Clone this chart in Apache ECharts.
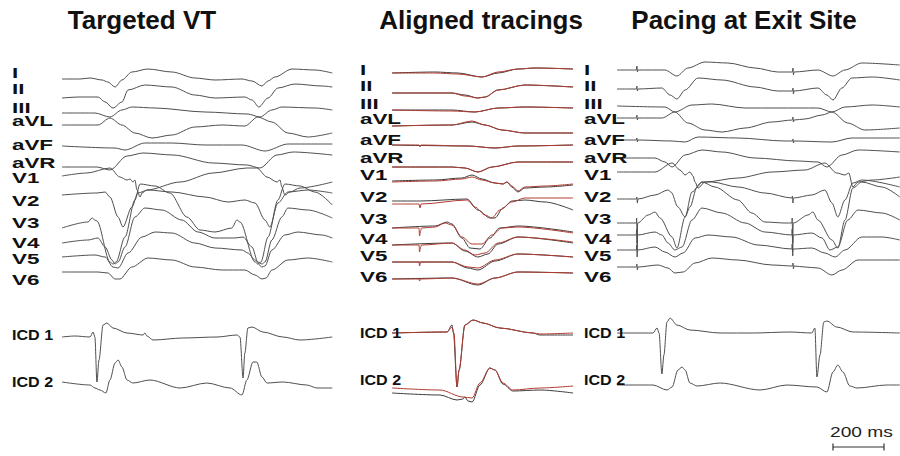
<!DOCTYPE html>
<html>
<head>
<meta charset="utf-8">
<title>Targeted VT and pace map</title>
<script src="https://cdn.jsdelivr.net/npm/echarts@6/dist/echarts.min.js"></script>
<style>
  html, body { margin: 0; padding: 0; background: #fff; }
  #chart { width: 900px; height: 456px; }
</style>
</head>
<body>
<div id="chart"></div>
<script>
// ---------------------------------------------------------------------------
// Tracings. Each lead is a list of [time (ms), amplitude] pairs; amplitude is
// relative to that lead's isoelectric level, positive upwards.
// ---------------------------------------------------------------------------
const leadNames = ['I', 'II', 'III', 'aVL', 'aVF', 'aVR', 'V1', 'V2', 'V3', 'V4', 'V5', 'V6', 'ICD 1', 'ICD 2'];
const panelTitles = ['Targeted VT', 'Aligned tracings', 'Pacing at Exit Site'];

// Targeted VT (two beats)
const vtI   = [[0,0],[71,0],[110,1],[157,-1],[180,-3],[208,-8],[235,-1],[274,7],[337,10],[431,7],[521,1],[600,-1],[706,0],[745,-2],[784,-7],[808,-2],[835,2],[902,10],[992,9],[1060,6]];
const vtII  = [[0,0],[71,1],[141,1],[169,-4],[200,-10],[235,-4],[259,8],[325,13],[431,11],[521,3],[600,0],[717,1],[745,-2],[772,-9],[808,0],[847,10],[913,14],[1019,12],[1060,11]];
const vtIII = [[0,0],[129,0],[188,-4],[235,3],[274,6],[365,5],[561,1],[729,-1],[776,-4],[823,3],[862,6],[992,5],[1060,3]];
const vtAVL = [[0,0],[141,0],[188,7],[235,0],[286,-8],[353,-13],[431,-10],[521,-2],[627,0],[717,-1],[768,8],[823,3],[886,-8],[964,-12],[1060,-8]];
const vtAVF = [[0,0],[208,-2],[247,-4],[325,3],[431,3],[561,1],[706,1],[796,-5],[886,2],[1060,2]];
const vtAVR = [[0,0],[137,0],[188,-3],[255,11],[318,14],[435,12],[592,4],[725,2],[776,-1],[843,12],[906,15],[1060,12]];
const vtV1  = [[0,0],[98,3],[188,8],[227,-1],[255,-4],[267,-3],[278,-6],[286,-4],[294,-14],[306,-21],[314,-17],[333,-14],[463,-6],[592,3],[725,8],[764,8],[804,-1],[843,-6],[855,-4],[862,-11],[874,-19],[894,-16],[933,-12],[1060,-6]];
const vtV2  = [[0,0],[137,2],[169,3],[188,-2],[220,-22],[239,-32],[274,-12],[298,2],[337,5],[431,3],[561,-2],[651,-7],[717,-5],[757,-8],[796,-25],[815,-32],[847,-8],[886,3],[964,5],[1060,2]];
const vtV3  = [[0,0],[102,6],[118,10],[129,8],[137,7],[188,-34],[200,-36],[212,-34],[247,-9],[286,28],[306,44],[365,42],[423,35],[490,11],[541,-2],[600,-4],[666,0],[686,8],[698,6],[757,-34],[768,-36],[780,-34],[808,-9],[847,28],[874,44],[933,42],[992,36],[1060,23]];
const vtV4  = [[0,0],[102,3],[141,5],[169,-4],[196,-17],[208,-21],[220,-19],[247,-4],[286,26],[325,35],[392,33],[470,23],[533,11],[600,5],[678,5],[710,6],[745,-4],[768,-19],[784,-21],[796,-19],[823,3],[862,26],[886,35],[964,33],[1060,25]];
const vtV5  = [[0,0],[129,2],[169,0],[200,-10],[220,-11],[259,4],[314,20],[365,25],[431,24],[521,14],[600,9],[706,7],[729,4],[757,-3],[784,-10],[796,-9],[823,7],[874,22],[925,25],[1019,22],[1060,19]];
const vtV6  = [[0,0],[141,0],[180,-1],[208,-7],[227,-7],[274,5],[337,14],[431,12],[521,5],[627,2],[717,2],[757,-3],[784,-7],[800,-6],[823,2],[886,12],[964,14],[1060,10]];
const vtICD1 = [[0,0],[51,1],[110,0],[122,5],[129,0],[137,-45],[145,-23],[161,12],[176,14],[200,9],[255,4],[318,2],[325,4],[333,1],[357,-3],[474,-1],[608,0],[686,2],[698,0],[710,-41],[717,-16],[729,9],[745,10],[788,5],[866,0],[933,-3],[1060,0]];
const vtICD2 = [[0,1],[110,-2],[129,-5],[149,-7],[172,-10],[188,3],[208,20],[220,23],[235,16],[255,3],[278,0],[345,3],[463,-5],[568,0],[659,-5],[706,-12],[725,3],[749,21],[764,21],[784,6],[804,0],[866,1],[960,-2],[1000,-5],[1060,-5]];

// Aligned single beat: VT (dark) and paced (red)
const alignVtI    = [[0,0],[169,1],[259,0],[353,-4],[416,0],[494,4],[561,5],[710,4]];
const alignPaceI  = [[0,0],[169,0],[259,-1],[353,-4],[416,1],[494,4],[561,5],[710,4]];
const alignVtII   = [[0,0],[235,0],[286,-2],[337,-5],[365,-4],[416,3],[521,8],[710,6]];
const alignPaceII = [[0,0],[110,0],[235,0],[286,-3],[337,-5],[365,-4],[416,3],[521,8],[710,6]];
const alignVtIII   = [[0,0],[235,0],[325,-2],[416,2],[521,3],[710,2]];
const alignPaceIII = [[0,0],[235,-1],[325,-2],[416,2],[521,3],[710,2]];
const alignVtAVL   = [[0,0],[235,1],[314,4],[365,1],[431,-4],[521,-7],[710,-7]];
const alignPaceAVL = [[0,0],[235,1],[314,5],[365,1],[431,-4],[521,-7],[710,-7]];
const alignVtAVF   = [[0,0],[298,-1],[404,-3],[494,-1],[710,0]];
const alignPaceAVF = [[0,0],[106,0],[110,-2],[114,0],[298,-1],[404,-3],[494,-1],[710,0]];
const alignVtAVR   = [[0,0],[235,0],[286,-1],[337,-5],[392,0],[494,5],[710,5]];
const alignPaceAVR = [[0,0],[235,0],[286,-1],[337,-5],[392,0],[494,5],[710,5]];
const alignVtV1   = [[0,1],[169,2],[274,4],[314,7],[353,3],[404,-1],[435,-2],[451,0],[470,-5],[494,-10],[521,-6],[600,-5],[710,-3]];
const alignPaceV1 = [[0,0],[169,1],[274,3],[314,5],[353,2],[404,-1],[435,-2],[451,0],[470,-4],[494,-9],[521,-5],[600,-4],[710,-2]];
const alignVtV2   = [[0,1],[110,1],[294,3],[337,-8],[384,-16],[404,-16],[435,-6],[470,1],[521,2],[600,0],[710,-8]];
const alignPaceV2 = [[0,-2],[106,-2],[110,-6],[114,-2],[294,2],[325,-5],[365,-13],[392,-16],[423,-8],[470,0],[521,4],[710,4]];
const alignVtV3   = [[0,0],[169,2],[216,6],[235,4],[274,-10],[306,-20],[345,-21],[384,-10],[423,0],[494,2],[710,-4]];
const alignPaceV3 = [[0,0],[106,0],[108,-8],[112,-3],[116,0],[169,1],[208,5],[235,3],[274,-9],[314,-16],[353,-16],[392,-7],[431,0],[494,1],[710,-5]];
const alignVtV4   = [[0,0],[235,2],[286,-6],[337,-12],[376,-9],[416,1],[494,8],[710,2]];
const alignPaceV4 = [[0,0],[106,0],[108,-7],[112,-2],[116,0],[235,2],[286,-5],[325,-10],[365,-8],[416,2],[494,8],[710,3]];
const alignVtV5   = [[0,0],[235,0],[298,-6],[337,-8],[404,1],[494,8],[710,5]];
const alignPaceV5 = [[0,0],[106,0],[108,-4],[112,0],[235,0],[298,-5],[337,-6],[404,2],[494,8],[710,5]];
const alignVtV6   = [[0,0],[235,1],[337,-6],[404,1],[494,7],[710,6]];
const alignPaceV6 = [[0,0],[106,0],[108,-2],[112,0],[235,1],[337,-5],[404,1],[494,7],[710,6]];
const alignVtICD1   = [[0,0],[216,1],[235,8],[241,0],[255,-54],[263,-37],[286,8],[318,13],[357,10],[423,5],[553,0],[580,-2],[710,-2]];
const alignPaceICD1 = [[0,0],[216,1],[235,6],[243,0],[255,-54],[263,-37],[286,8],[318,13],[357,10],[423,5],[553,0],[580,-1],[710,0]];
const alignVtICD2   = [[0,-5],[188,-7],[255,-12],[278,-11],[286,-9],[298,-13],[314,-14],[345,3],[384,20],[404,18],[435,4],[474,-3],[580,-2],[710,-5]];
const alignPaceICD2 = [[0,0],[188,-2],[278,-9],[314,-10],[345,5],[384,20],[404,18],[435,5],[474,-2],[580,0],[710,2]];

// Pacing at the exit site (two paced beats, stimulus at 78 ms and 688 ms)
const paceI   = [[0,0],[60,0],[76,0],[78,4],[80,-2],[82,0],[188,0],[235,-6],[278,2],[345,8],[435,7],[541,2],[631,-2],[688,-2],[690,2],[692,-5],[694,-2],[788,0],[847,-6],[894,0],[960,7],[1109,5]];
const paceII  = [[0,0],[76,0],[78,3],[80,-2],[82,0],[176,1],[208,-6],[235,-10],[267,-1],[318,11],[412,9],[541,2],[631,-2],[688,-2],[690,1],[692,-5],[694,-2],[788,1],[823,-6],[847,-11],[882,1],[921,11],[1000,12],[1109,9]];
const paceIII = [[0,0],[188,-1],[227,-6],[294,1],[372,2],[502,-2],[631,-2],[788,-2],[843,-6],[894,-1],[1000,1],[1109,-1]];
const paceAVL = [[0,0],[76,0],[78,3],[80,-2],[82,0],[176,0],[227,6],[278,-5],[345,-12],[412,-14],[502,-10],[608,-4],[688,-2],[690,1],[692,-4],[694,-2],[737,-1],[804,3],[843,6],[905,-5],[972,-12],[1109,-10]];
const paceAVF = [[0,0],[76,0],[78,2],[80,-2],[82,0],[216,-1],[267,-2],[318,3],[474,2],[659,-1],[688,-1],[690,1],[692,-3],[694,-1],[843,-2],[921,2],[1109,2]];
const paceAVR = [[0,0],[149,0],[188,-4],[216,-9],[267,3],[333,8],[412,6],[541,0],[710,-3],[788,-4],[823,-9],[882,3],[945,8],[1109,6]];
const paceV1  = [[0,0],[149,0],[216,9],[247,2],[267,-3],[286,0],[298,-4],[306,-10],[318,-16],[345,-10],[474,-6],[608,0],[737,2],[815,9],[862,-1],[894,-3],[909,-1],[925,-15],[945,-10],[1000,-8],[1109,-5]];
const paceV2  = [[0,0],[76,0],[78,2],[80,-4],[82,0],[149,4],[200,9],[212,7],[239,-8],[267,-18],[286,-8],[314,12],[333,17],[372,17],[474,12],[580,6],[686,1],[688,3],[690,-4],[692,1],[764,4],[815,9],[843,-4],[866,-18],[894,-1],[925,16],[960,19],[1109,12]];
const paceV3  = [[0,0],[76,0],[77,5],[79,-20],[81,0],[122,8],[149,11],[169,5],[216,-14],[235,-25],[267,6],[294,31],[333,41],[384,36],[474,23],[529,10],[580,1],[659,0],[686,0],[687,5],[689,-20],[691,0],[749,8],[768,11],[788,3],[843,-17],[866,-25],[894,3],[925,35],[960,41],[1039,36],[1109,26]];
const paceV4  = [[0,0],[76,0],[77,6],[79,-15],[81,0],[149,3],[176,0],[200,-8],[227,-15],[255,-12],[294,15],[333,27],[412,22],[502,12],[580,3],[686,0],[687,6],[689,-15],[691,0],[764,2],[804,-3],[835,-15],[866,-12],[905,15],[945,25],[1039,22],[1109,15]];
const paceV5  = [[0,0],[76,0],[77,5],[79,-7],[81,0],[149,3],[188,-2],[227,-7],[259,-3],[306,12],[357,15],[451,13],[553,5],[686,1],[687,6],[689,-6],[691,1],[764,2],[815,-3],[855,-7],[894,0],[960,13],[1039,13],[1109,10]];
const paceV6  = [[0,0],[76,0],[78,3],[80,-3],[82,0],[161,2],[200,-1],[227,-6],[259,-5],[306,4],[372,9],[474,7],[608,2],[688,1],[690,4],[692,-2],[694,1],[737,0],[788,-1],[843,-8],[882,-3],[945,7],[1109,7]];
const paceICD1 = [[0,0],[141,0],[157,5],[165,0],[176,-41],[184,-22],[196,11],[208,15],[235,8],[286,3],[404,0],[533,0],[678,1],[764,0],[776,5],[784,-44],[796,-22],[811,11],[823,12],[862,6],[925,1],[1109,0]];
const paceICD2 = [[0,0],[141,0],[196,-5],[216,-2],[239,15],[255,18],[267,15],[286,2],[314,-1],[404,2],[561,-5],[666,0],[784,-2],[823,-7],[847,13],[866,20],[886,13],[913,-1],[941,-3],[1058,0],[1109,0]];

// Calibration bar
const scaleBarMs = 200;
const scaleBarLabel = '200 ms';

// ---------------------------------------------------------------------------
// Layout
// ---------------------------------------------------------------------------
const H = 456;
const PX_PER_MS = 0.255;
const TRACE_GREY = '#4f4f4f';
const ALIGN_DARK = '#3c3c3c';
const ALIGN_RED = '#b23a30';

const labelRowsA = [73, 89, 108, 121, 145, 163, 178, 201, 223, 243, 259, 280, 335, 382];
const labelRowsB = [70, 86, 104, 119, 140, 158, 175, 197, 219, 239, 256, 277, 333, 380];

const panels = [
  {
    title: panelTitles[0], titleX: 142, labelX: 12, labelRows: labelRowsA,
    left: 62, span: 1060,
    levels: [79, 98, 113, 125, 146, 167, 176, 195, 228, 243, 257, 272, 337, 383],
    traces: [{ color: TRACE_GREY, width: 1, leads: [vtI, vtII, vtIII, vtAVL, vtAVF, vtAVR, vtV1, vtV2, vtV3, vtV4, vtV5, vtV6, vtICD1, vtICD2] }]
  },
  {
    title: panelTitles[1], titleX: 481, labelX: 360, labelRows: labelRowsB,
    left: 392, span: 710,
    levels: [73, 93, 110, 126, 145, 167, 182, 202, 228, 245, 262, 279, 333, 388],
    traces: [
      { color: ALIGN_DARK, width: 1, leads: [alignVtI, alignVtII, alignVtIII, alignVtAVL, alignVtAVF, alignVtAVR, alignVtV1, alignVtV2, alignVtV3, alignVtV4, alignVtV5, alignVtV6, alignVtICD1, alignVtICD2] },
      { color: ALIGN_RED, width: 1, leads: [alignPaceI, alignPaceII, alignPaceIII, alignPaceAVL, alignPaceAVF, alignPaceAVR, alignPaceV1, alignPaceV2, alignPaceV3, alignPaceV4, alignPaceV5, alignPaceV6, alignPaceICD1, alignPaceICD2] }
    ]
  },
  {
    title: panelTitles[2], titleX: 744, labelX: 584, labelRows: labelRowsB,
    left: 617, span: 1109,
    levels: [70, 89, 106, 118, 140, 158, 172, 199, 223, 235, 250, 267, 333, 385],
    traces: [{ color: TRACE_GREY, width: 1, leads: [paceI, paceII, paceIII, paceAVL, paceAVF, paceAVR, paceV1, paceV2, paceV3, paceV4, paceV5, paceV6, paceICD1, paceICD2] }]
  }
];

const grid = [], xAxis = [], yAxis = [], series = [], graphic = [];

panels.forEach((p, i) => {
  grid.push({ left: p.left, top: 0, width: p.span * PX_PER_MS, height: H });
  xAxis.push({ type: 'value', gridIndex: i, min: 0, max: p.span, show: false });
  yAxis.push({ type: 'value', gridIndex: i, min: 0, max: H, show: false });

  p.traces.forEach((tr, ti) => {
    tr.leads.forEach((lead, k) => {
      const zero = H - p.levels[k];
      series.push({
        type: 'line',
        name: panelTitles[i] + ' ' + leadNames[k],
        xAxisIndex: i, yAxisIndex: i,
        data: lead.map(([t, a]) => [t, zero + a]),
        symbol: 'none', showSymbol: false,
        smooth: 0.3, smoothMonotone: 'x',
        lineStyle: { color: tr.color, width: tr.width },
        silent: true, animation: false, z: 2 + ti
      });
    });
  });

  graphic.push({
    type: 'text', x: p.titleX, y: 20, z: 10,
    style: { text: p.title, font: 'bold 26px "Liberation Sans", Arial, sans-serif', fill: '#111',
             textAlign: 'center', textVerticalAlign: 'middle', align: 'center', verticalAlign: 'middle' }
  });
  leadNames.forEach((name, k) => {
    const isIcd = k >= 12;
    graphic.push({
      type: 'text', x: p.labelX, y: p.labelRows[k], z: 10,
      scaleX: isIcd ? 1.15 : 1.6, scaleY: 1,
      style: { text: name, font: 'bold 14px "Liberation Sans", Arial, sans-serif', fill: '#111',
               textVerticalAlign: 'middle', verticalAlign: 'middle' }
    });
  });
});

// 200 ms calibration bar, drawn on the pacing panel's time axis
const barStart = 847, barLevel = H - 447;
series.push({
  type: 'line', xAxisIndex: 2, yAxisIndex: 2, symbol: 'none', animation: false, silent: true,
  lineStyle: { color: '#333', width: 1.2 },
  data: [[barStart, barLevel + 3.5], [barStart, barLevel - 3.5], [barStart, barLevel],
         [barStart + scaleBarMs, barLevel], [barStart + scaleBarMs, barLevel + 3.5], [barStart + scaleBarMs, barLevel - 3.5]]
});
graphic.push({
  type: 'text', x: 830, y: 432, z: 10, scaleX: 1.28,
  style: { text: scaleBarLabel, font: '15px "Liberation Sans", Arial, sans-serif', fill: '#222',
           textVerticalAlign: 'middle', verticalAlign: 'middle' }
});

const chart = echarts.init(document.getElementById('chart'), null, { renderer: 'svg' });
chart.setOption({
  animation: false,
  backgroundColor: '#fff',
  grid, xAxis, yAxis, series, graphic
});
</script>
</body>
</html>
